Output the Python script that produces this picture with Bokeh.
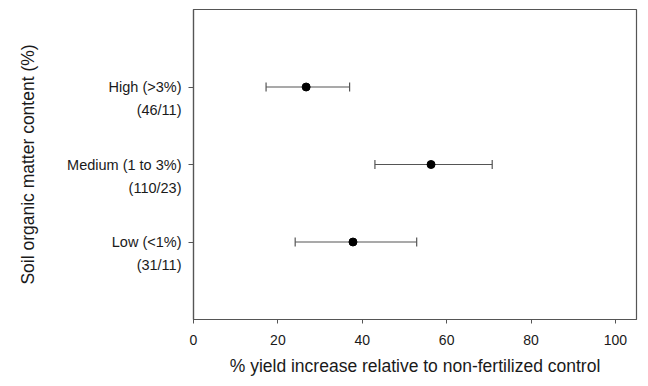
from bokeh.plotting import figure
from bokeh.models import ColumnDataSource, Whisker, FixedTicker, Range1d, TeeHead, LinearAxis
from bokeh.embed import file_html
from bokeh.resources import INLINE

# Data
categories = ["Low (<1%)", "Medium (1 to 3%)", "High (>3%)"]
counts = ["(31/11)", "(110/23)", "(46/11)"]
means = [37.8, 56.3, 26.7]
lower = [24.1, 43.0, 17.2]
upper = [52.9, 70.8, 37.0]
xticks = [0, 20, 40, 60, 80, 100]

ypos = list(range(1, len(categories) + 1))
ypos2 = [y - 0.3 for y in ypos]
src = ColumnDataSource(dict(y=ypos, mean=means, lower=lower, upper=upper))

FONT = "Liberation Sans"
AX = "#555555"
TXT = "#1a1a1a"

p = figure(width=640, height=378, output_backend="svg", toolbar_location=None,
           x_range=Range1d(0, 105), y_range=Range1d(0, 4),
           min_border_left=193, min_border_right=4, min_border_top=9, min_border_bottom=58)
p.grid.visible = False
p.outline_line_color = AX
p.outline_line_width = 1.2

w = Whisker(source=src, base="y", lower="lower", upper="upper", dimension="width",
            line_color=AX, line_width=1.2,
            lower_head=TeeHead(size=9, line_color=AX, line_width=1.2),
            upper_head=TeeHead(size=9, line_color=AX, line_width=1.2))
p.add_layout(w)
p.scatter(x="mean", y="y", source=src, size=8, color="black")

# x axis
p.xaxis.ticker = FixedTicker(ticks=xticks)
p.xaxis.minor_tick_line_color = None
p.xaxis.major_tick_in = 0
p.xaxis.major_tick_out = 4
p.xaxis.major_label_standoff = 11
p.xaxis.axis_label = "% yield increase relative to non-fertilized control"
p.xaxis.axis_label_standoff = 8
p.xaxis.axis_line_color = AX
p.xaxis.axis_line_width = 1.2
p.xaxis.major_tick_line_color = AX
p.xaxis.major_label_text_font = FONT
p.xaxis.major_label_text_font_size = "14px"
p.xaxis.major_label_text_color = TXT
p.xaxis.axis_label_text_font = FONT
p.xaxis.axis_label_text_font_size = "17.5px"
p.xaxis.axis_label_text_font_style = "normal"
p.xaxis.axis_label_text_color = TXT

# y axis: inner axis with tick marks only
ya = p.yaxis[0]
ya.ticker = FixedTicker(ticks=ypos)
ya.major_label_overrides = {y: "" for y in ypos}
ya.minor_tick_line_color = None
ya.major_tick_in = 0
ya.major_tick_out = 5
ya.major_label_standoff = 0
ya.axis_line_color = AX
ya.axis_line_width = 1.2
ya.major_tick_line_color = AX

# outer axis carrying the two-line category labels
overrides = {}
for y, c in zip(ypos, categories):
    overrides[y] = c
for y, c in zip(ypos2, counts):
    overrides[y] = c
yb = LinearAxis(ticker=FixedTicker(ticks=sorted(ypos + ypos2)),
                major_label_overrides=overrides,
                axis_line_color=None, major_tick_line_color=None, minor_tick_line_color=None,
                major_tick_in=0, major_tick_out=0, major_label_standoff=7,
                major_label_text_font=FONT, major_label_text_font_size="14.5px",
                major_label_text_color=TXT,
                axis_label="Soil organic matter content (%)", axis_label_standoff=26,
                axis_label_text_font=FONT, axis_label_text_font_size="17.5px",
                axis_label_text_font_style="normal", axis_label_text_color=TXT)
p.add_layout(yb, "left")

open("out.html", "w").write(file_html(p, INLINE))
